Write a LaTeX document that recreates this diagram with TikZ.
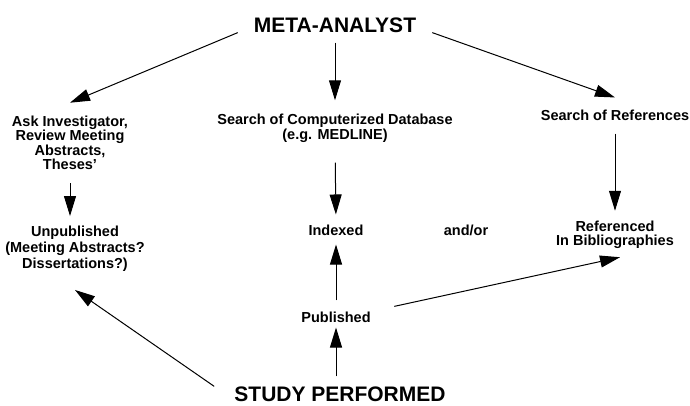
\documentclass[tikz,border=0pt]{standalone}
\usepackage{fontspec}
\setmainfont{Liberation Sans}
\usetikzlibrary{arrows.meta}
\begin{document}
\begin{tikzpicture}[x=1pt,y=-1pt,
  txt/.style={font=\fontsize{14.5}{14.5}\selectfont\bfseries, align=center, inner sep=0pt},
  bigtxt/.style={font=\fontsize{21}{21}\selectfont\bfseries, inner ysep=0pt},
  arr/.style={-{Triangle[length=20pt,width=12pt]}, line width=1pt}]
\useasboundingbox (0,0) rectangle (690,406);
\node[bigtxt, inner xsep=16pt] (meta) at (335,25) {META-ANALYST};
\node[txt] (ask) at (70,143) {Ask Investigator,\\Review Meeting\\Abstracts,\\Theses'};
\node[txt] (db) at (335,128.5) {Search of Computerized Database\\(e.g. MEDLINE)};
\node[txt] (refs) at (615,115) {Search of References};
\node[txt] (unpub) at (75,249) {Unpublished\\[1.5pt](Meeting Abstracts?\\[1.5pt]Dissertations?)};
\node[txt] (indexed) at (336,230) {Indexed};
\node[txt] (andor) at (466,230) {and/or};
\node[txt] (biblio) at (615,235) {Referenced\\In Bibliographies};
\node[txt] (published) at (336,317) {Published};
\node[bigtxt, inner xsep=20pt] (study) at (340,394) {STUDY PERFORMED};
\draw[arr] (meta.south west) -- ([yshift=13pt]ask.north);
\draw[arr, shorten <=10pt, shorten >=14pt] (meta.south) -- (db.north);
\draw[arr] (meta.south east) -- ([yshift=12pt]refs.north);
\draw[arr, shorten <=13pt, shorten >=10pt] (ask.south) -- (ask.south |- unpub.north);
\draw[arr, shorten <=20pt, shorten >=10pt] (db.south) -- (indexed.north);
\draw[arr, shorten <=13pt, shorten >=10pt] (refs.south) -- (biblio.north);
\draw[arr, shorten <=11pt, shorten >=9pt] (published.north) -- (indexed.south);
\draw[arr, shorten <=10pt, shorten >=5pt] (published.south |- study.north) -- (published.south);
\draw[arr, shorten <=24pt] (published.north east) -- ([xshift=5pt,yshift=-8pt]biblio.south);
\draw[arr] (study.north west) -- ([yshift=-18pt]unpub.south);
\end{tikzpicture}
\end{document}
